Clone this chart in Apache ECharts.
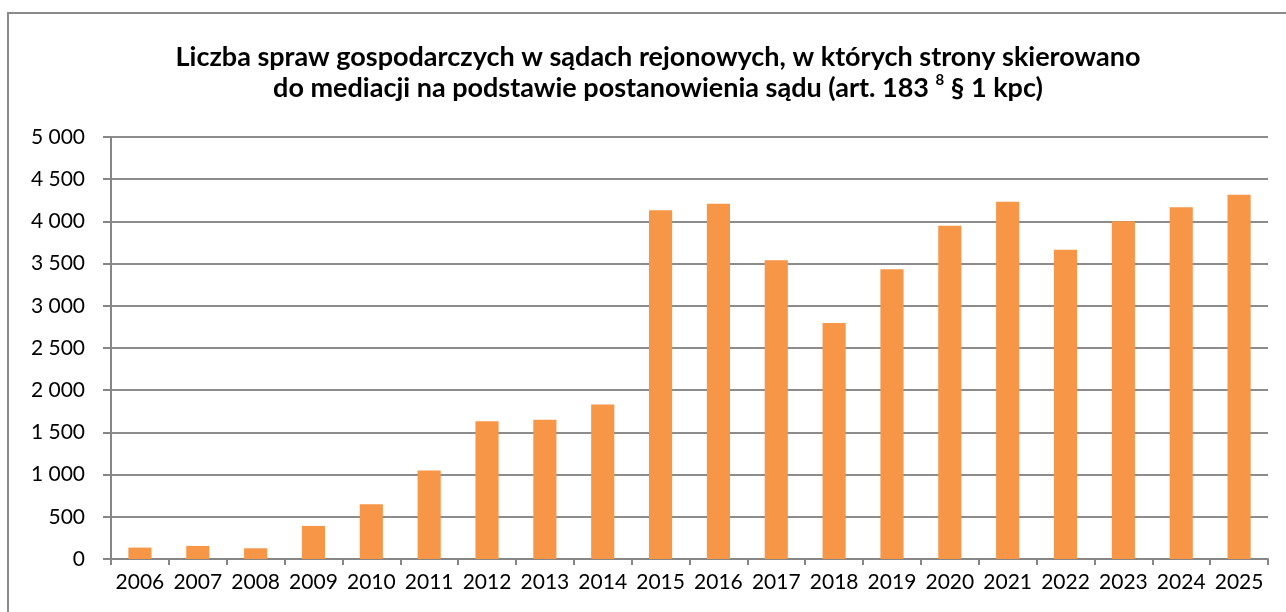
<!DOCTYPE html>
<html>
<head>
<meta charset="utf-8">
<script src="https://cdn.jsdelivr.net/npm/echarts@6/dist/echarts.min.js"></script>
<style>
html,body{margin:0;padding:0;background:#fff;}
#chart{width:1286px;height:612px;}
</style>
</head>
<body>
<div id="chart"></div>
<script>
const categories = ['2006','2007','2008','2009','2010','2011','2012','2013','2014','2015','2016','2017','2018','2019','2020','2021','2022','2023','2024','2025'];
const values = [135, 155, 127, 392, 650, 1050, 1632, 1651, 1830, 4133, 4208, 3539, 2795, 3432, 3947, 4232, 3665, 4002, 4169, 4315];
const titleLine1 = 'Liczba spraw gospodarczych w sądach rejonowych, w których strony skierowano';
const titleLine2a = 'do mediacji na podstawie postanowienia sądu (art. 183 ';
const titleSup = '8';
const titleLine2b = ' § 1 kpc)';

const FONT = 'Lato, "Open Sans", sans-serif';
const chart = echarts.init(document.getElementById('chart'), null, {renderer: 'canvas'});
const fmt = v => String(v).replace(/\B(?=(\d{3})+(?!\d))/g, ' ');

chart.setOption({
  animation: false,
  backgroundColor: '#fff',
  title: {
    text: '{t|' + titleLine1 + '}\n{t|' + titleLine2a + '}{sup|' + titleSup + '}{t|' + titleLine2b + '}',
    left: 653,
    textAlign: 'center',
    top: 37,
    textStyle: {
      rich: {
        t: {fontFamily: FONT, fontWeight: 'bold', fontSize: 27, color: '#000', lineHeight: 31},
        sup: {fontFamily: FONT, fontWeight: 'bold', fontSize: 15, color: '#000', lineHeight: 31, verticalAlign: 'top', padding: [0,0,10,0]}
      }
    }
  },
  graphic: [{
    type: 'rect', silent: true,
    shape: {x: 8, y: 13, width: 1400, height: 700},
    style: {fill: 'none', stroke: '#8a8a8a', lineWidth: 2}
  }],
  grid: {left: 111, right: 18, top: 137, bottom: 53, containLabel: false},
  xAxis: {
    type: 'category',
    data: categories,
    axisLine: {lineStyle: {color: '#868686', width: 2}},
    axisTick: {show: true, length: 6, lineStyle: {color: '#868686', width: 2}},
    axisLabel: {color: '#000', fontFamily: FONT, fontSize: 21, margin: 13, interval: 0}
  },
  yAxis: {
    type: 'value',
    min: 0, max: 5000, interval: 500,
    axisLine: {show: true, lineStyle: {color: '#868686', width: 2}},
    axisTick: {show: true, length: 8, lineStyle: {color: '#868686', width: 2}},
    splitLine: {lineStyle: {color: '#8c8c8c', width: 2}},
    axisLabel: {color: '#000', fontFamily: FONT, fontSize: 21, margin: 26, formatter: fmt}
  },
  series: [{
    type: 'bar',
    data: values,
    barWidth: '40%',
    itemStyle: {color: '#F79646'}
  }]
});
</script>
</body>
</html>
